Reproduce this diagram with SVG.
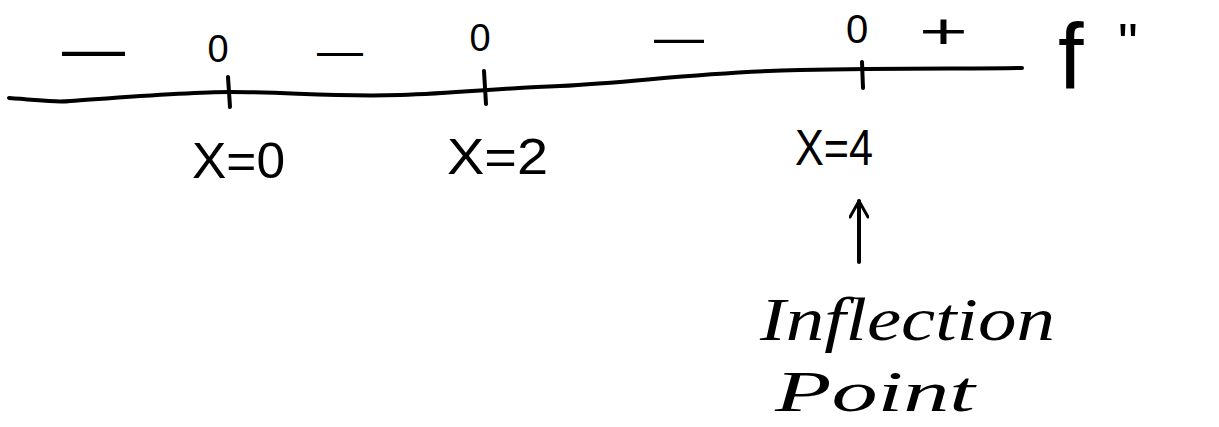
<svg xmlns="http://www.w3.org/2000/svg" width="1219" height="427" viewBox="0 0 1219 427">
<style>
.ink{stroke:#000;stroke-width:4;fill:none;stroke-linecap:round;stroke-linejoin:round}
.sign{font-family:"Liberation Sans",Arial,sans-serif;fill:#000}
.lbl{font-family:"Liberation Sans",Arial,sans-serif;font-size:50px;fill:#000}
.hand{font-family:"Liberation Serif","Times New Roman",serif;font-style:italic;fill:#000}
</style>
<defs>
<marker id="ah" viewBox="0 0 20 20" refX="18" refY="10" markerWidth="20" markerHeight="20" markerUnits="userSpaceOnUse" orient="auto">
<path d="M2,1 L18,10 L2,19" fill="none" stroke="#000" stroke-width="3" stroke-linecap="round" stroke-linejoin="round"/>
</marker>
</defs>
<rect width="1219" height="427" fill="#fff"/>
<g id="axis">
<path class="ink" d="M9,98 C40,100 55,103 70,101 C140,96 190,92 230,92 C290,92 330,97 400,95 C460,93 500,88 560,86 C640,82 700,72 800,70 C900,68 980,69 1022,68"/>
<path class="ink" d="M228,77 L230,107"/>
<path class="ink" d="M484,71 L486,104"/>
<path class="ink" d="M862,62 L863,88"/>
</g>
<g id="signs">
<text class="sign" x="62" y="70" font-size="64" textLength="63" lengthAdjust="spacingAndGlyphs">—</text>
<text class="sign" x="317" y="66" font-size="46" textLength="46" lengthAdjust="spacingAndGlyphs">—</text>
<text class="sign" x="654" y="54" font-size="50" textLength="50" lengthAdjust="spacingAndGlyphs">—</text>
<text class="sign" x="919" y="48" font-size="50" textLength="49" lengthAdjust="spacingAndGlyphs">+</text>
</g>
<g id="zeros">
<text class="sign" x="218" y="62" font-size="38" text-anchor="middle">0</text>
<text class="sign" x="480" y="51" font-size="38" text-anchor="middle">0</text>
<text class="sign" x="857" y="43" font-size="40" text-anchor="middle">0</text>
</g>
<g id="f2">
<text class="sign" x="1058" y="88" font-size="92">f</text>
<text class="sign" x="1118" y="62" font-size="56">"</text>
</g>
<g id="x0"><text class="lbl" x="192" y="178" textLength="93" lengthAdjust="spacingAndGlyphs">X=0</text></g>
<g id="x2"><text class="lbl" x="447" y="174" textLength="101" lengthAdjust="spacingAndGlyphs">X=2</text></g>
<g id="x4"><text class="lbl" x="795" y="165" textLength="78" lengthAdjust="spacingAndGlyphs">X=4</text></g>
<g id="connectors">
<path class="ink" d="M859,262 L859,201" marker-end="url(#ah)"/>
</g>
<g id="inflection">
<text class="hand" x="760" y="340" font-size="62" textLength="295" lengthAdjust="spacingAndGlyphs">Inflection</text>
<text class="hand" x="775" y="411" font-size="58" textLength="200" lengthAdjust="spacingAndGlyphs">Point</text>
</g>
</svg>
